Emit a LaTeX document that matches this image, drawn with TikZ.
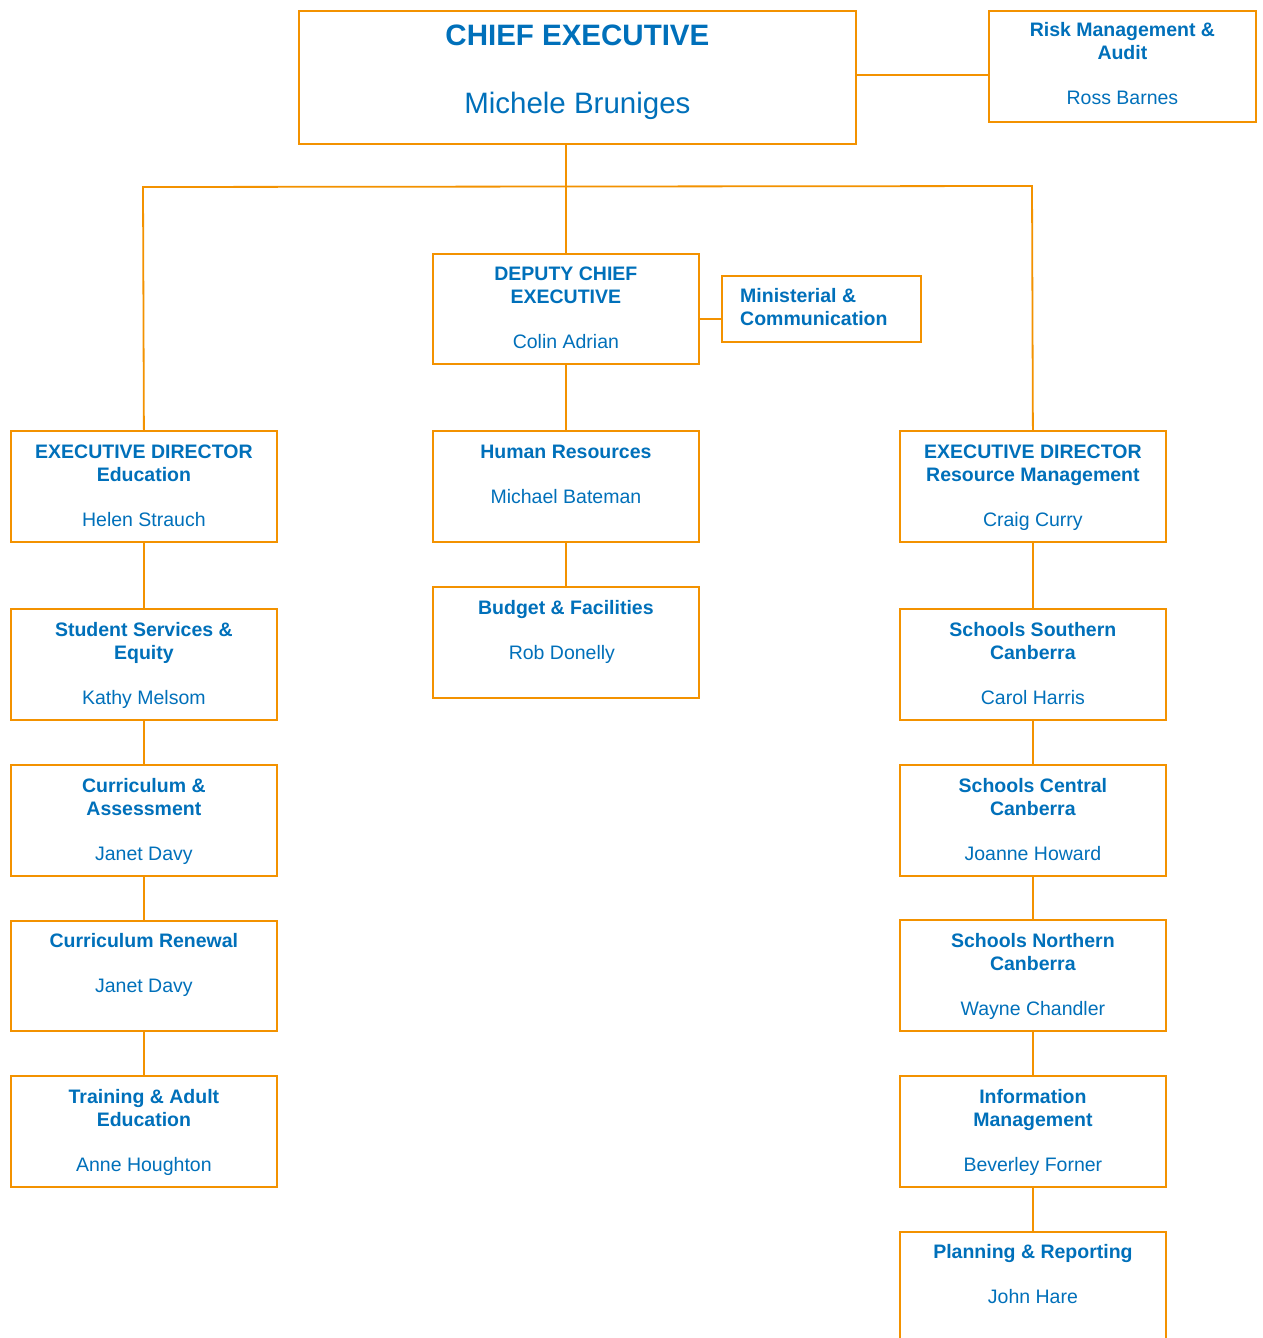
\documentclass[tikz,border=0pt]{standalone}
\usepackage{fontspec}
\setmainfont{Liberation Sans}
\definecolor{orgline}{HTML}{F39200}
\definecolor{orgtext}{HTML}{0070BA}
\begin{document}
\begin{tikzpicture}[x=1pt,y=-1pt,
  obox/.style={draw=orgline, line width=1.8pt, anchor=north west, inner sep=0pt, fill=white},
  otext/.style={anchor=base, align=center, inner sep=0pt, text=orgtext, font=\fontsize{19.5}{23}\selectfont},
  link/.style={draw=orgline, line width=1.8pt}]
\useasboundingbox (0,0) rectangle (1262,1338);
\clip (0,0) rectangle (1262,1338);
\fill[white] (0,0) rectangle (1262,1338);
% boxes
\node[obox, minimum width=557, minimum height=133] (chief) at (298,10) {};
\node[obox, minimum width=267, minimum height=111] (risk) at (988,10) {};
\node[obox, minimum width=266, minimum height=110] (dep) at (432,253) {};
\node[obox, minimum width=199, minimum height=66] (min) at (721,275) {};
\node[obox, minimum width=266, minimum height=111] (hr) at (432,430) {};
\node[obox, minimum width=266, minimum height=111] (bud) at (432,586) {};
\node[obox, minimum width=266, minimum height=111] (edu) at (10,430) {};
\node[obox, minimum width=266, minimum height=111] (sse) at (10,608) {};
\node[obox, minimum width=266, minimum height=111] (ca) at (10,764) {};
\node[obox, minimum width=266, minimum height=110] (cr) at (10,920) {};
\node[obox, minimum width=266, minimum height=111] (tae) at (10,1075) {};
\node[obox, minimum width=266, minimum height=111] (rm) at (899,430) {};
\node[obox, minimum width=266, minimum height=111] (ssc) at (899,608) {};
\node[obox, minimum width=266, minimum height=111] (scc) at (899,764) {};
\node[obox, minimum width=266, minimum height=111] (snc) at (899,919) {};
\node[obox, minimum width=266, minimum height=111] (im) at (899,1075) {};
\node[obox, minimum width=266, minimum height=130] (pr) at (899,1231) {};
% texts (anchor base = baseline of the last line)
\node[otext, font=\fontsize{29.5}{30}\selectfont] (chief-t) at ([yshift=-103]chief.north) {\textbf{CHIEF EXECUTIVE}\\[38pt]Michele Bruniges};
\node[otext] (risk-t) at ([yshift=-94]risk.north) {\textbf{Risk Management \&}\\\textbf{Audit}\\[22pt]Ross Barnes};
\node[otext] (dep-t) at ([yshift=-95]dep.north) {\textbf{DEPUTY CHIEF}\\\textbf{EXECUTIVE}\\[22pt]Colin Adrian};
\node[otext, anchor=base west, align=left] (min-t) at (740,325) {\textbf{Ministerial \&}\\\textbf{Communication}};
\node[otext] (hr-t) at ([yshift=-73]hr.north) {\textbf{Human Resources}\\[22pt]Michael Bateman};
\node[otext] (bud-t) at ([yshift=-73]bud.north) {\textbf{Budget \& Facilities}\\[22pt]\hspace*{-8pt}Rob Donelly};
\node[otext] (edu-t) at ([yshift=-96]edu.north) {\textbf{EXECUTIVE DIRECTOR}\\\textbf{Education}\\[22pt]Helen Strauch};
\node[otext] (sse-t) at ([yshift=-96]sse.north) {\textbf{Student Services \&}\\\textbf{Equity}\\[22pt]Kathy Melsom};
\node[otext] (ca-t) at ([yshift=-96]ca.north) {\textbf{Curriculum \&}\\\textbf{Assessment}\\[22pt]Janet Davy};
\node[otext] (cr-t) at ([yshift=-72.5]cr.north) {\textbf{Curriculum Renewal}\\[22pt]Janet Davy};
\node[otext] (tae-t) at ([yshift=-96]tae.north) {\textbf{Training \& Adult}\\\textbf{Education}\\[22pt]Anne Houghton};
\node[otext] (rm-t) at ([yshift=-96]rm.north) {\textbf{EXECUTIVE DIRECTOR}\\\textbf{Resource Management}\\[22pt]Craig Curry};
\node[otext] (ssc-t) at ([yshift=-96]ssc.north) {\textbf{Schools Southern}\\\textbf{Canberra}\\[22pt]Carol Harris};
\node[otext] (scc-t) at ([yshift=-96]scc.north) {\textbf{Schools Central}\\\textbf{Canberra}\\[22pt]Joanne Howard};
\node[otext] (snc-t) at ([yshift=-96]snc.north) {\textbf{Schools Northern}\\\textbf{Canberra}\\[22pt]Wayne Chandler};
\node[otext] (im-t) at ([yshift=-96]im.north) {\textbf{Information}\\\textbf{Management}\\[22pt]Beverley Forner};
\node[otext] (pr-t) at ([yshift=-72]pr.north) {\textbf{Planning \& Reporting}\\[22pt]John Hare};
% connectors
\coordinate (jl) at (143,187);
\coordinate (jr) at (1032,186);
\coordinate (mc) at (710,319);
\coordinate (rc) at (920,75);
\draw[link] (chief.east |- rc) -- (risk.west |- rc);
\draw[link] (dep.north) -- (dep.north |- chief.south);
\draw[link] (edu.north) -- (jl) -- (jr) -- (rm.north);
\draw[link] (dep.east |- mc) -- (min.west |- mc);
\draw[link] (dep.south) -- (hr.north);
\draw[link] (hr.south) -- (bud.north);
\draw[link] (edu.south) -- (sse.north);
\draw[link] (sse.south) -- (ca.north);
\draw[link] (ca.south) -- (cr.north);
\draw[link] (cr.south) -- (tae.north);
\draw[link] (rm.south) -- (ssc.north);
\draw[link] (ssc.south) -- (scc.north);
\draw[link] (scc.south) -- (snc.north);
\draw[link] (snc.south) -- (im.north);
\draw[link] (im.south) -- (pr.north);
\end{tikzpicture}
\end{document}
